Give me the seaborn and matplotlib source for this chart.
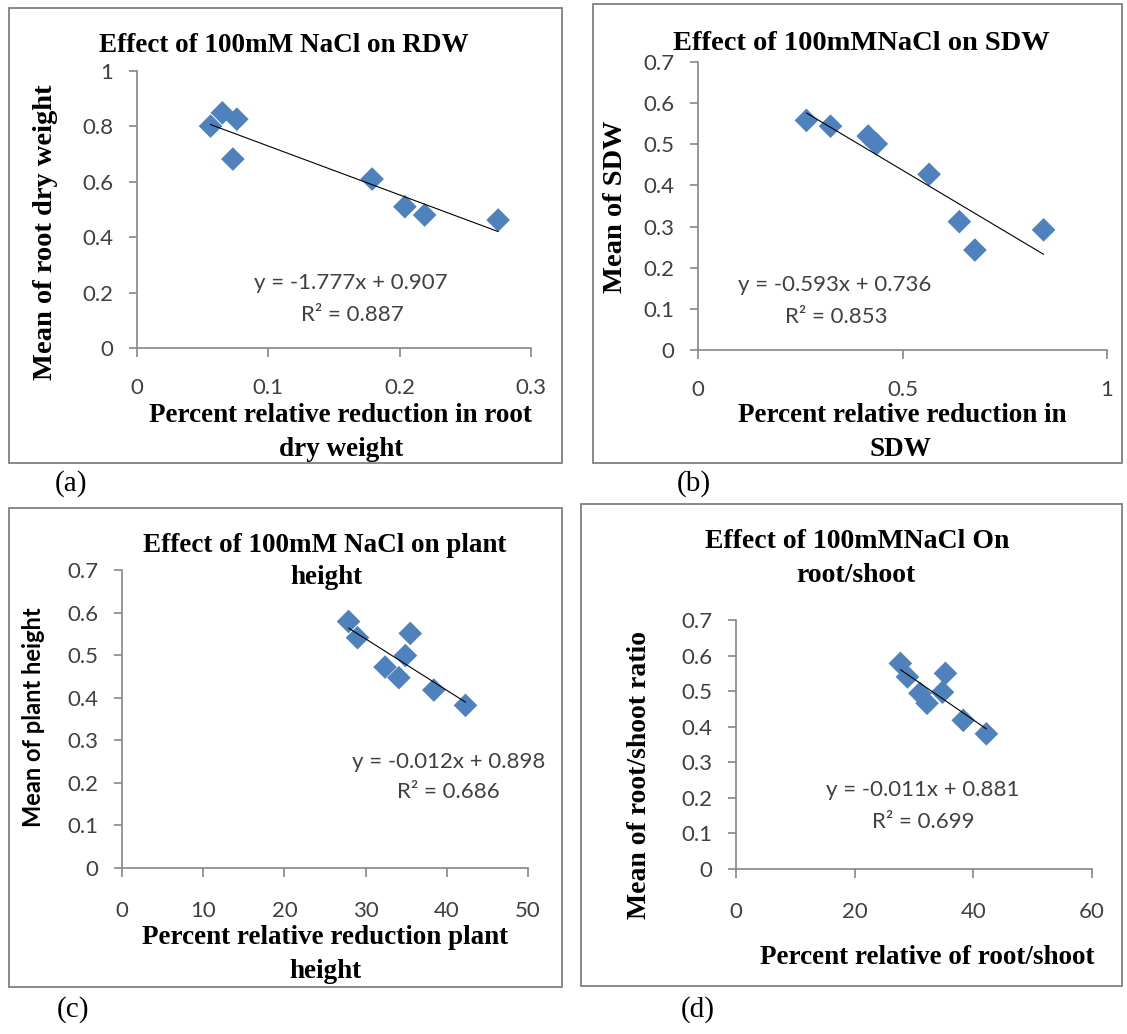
import matplotlib
matplotlib.use("Agg")
import matplotlib.pyplot as plt
from matplotlib.patches import Rectangle
import seaborn as sns
import pandas as pd

W, H = 1127, 1034

# ---------------- data ----------------
# (a) root dry weight
rdw_x = [0.056, 0.065, 0.076, 0.073, 0.179, 0.204, 0.219, 0.275]
rdw_y = [0.801, 0.849, 0.826, 0.682, 0.610, 0.510, 0.480, 0.462]
# (b) shoot dry weight
sdw_x = [0.265, 0.324, 0.416, 0.436, 0.565, 0.639, 0.677, 0.845]
sdw_y = [0.558, 0.544, 0.520, 0.501, 0.427, 0.312, 0.243, 0.292]
# (c) plant height
ph_x = [27.9, 29.0, 35.5, 34.9, 32.4, 34.1, 38.4, 42.3]
ph_y = [0.579, 0.541, 0.551, 0.499, 0.472, 0.447, 0.418, 0.382]
# (d) root/shoot
rs_x = [27.7, 28.9, 35.3, 34.8, 31.0, 32.2, 38.3, 42.2]
rs_y = [0.578, 0.540, 0.550, 0.497, 0.494, 0.466, 0.418, 0.380]

a_xticks = [0, 0.1, 0.2, 0.3]
a_yticks = [0, 0.2, 0.4, 0.6, 0.8, 1]
b_xticks = [0, 0.5, 1]
c_xticks = [0, 10, 20, 30, 40, 50]
d_xticks = [0, 20, 40, 60]
y07_ticks = [0, 0.1, 0.2, 0.3, 0.4, 0.5, 0.6, 0.7]

titles = ["Effect of 100mM NaCl on RDW", "Effect of 100mMNaCl on SDW",
          "Effect of 100mM NaCl on plant\nheight", "Effect of 100mMNaCl On\nroot/shoot"]
xlabels = ["Percent relative reduction in root\ndry weight", "Percent relative reduction in\nSDW",
           "Percent relative reduction plant\nheight", "Percent relative of root/shoot"]
ylabels = ["Mean of root dry weight", "Mean of SDW", "Mean of plant height", "Mean of root/shoot ratio"]
equations = [("y = -1.777x + 0.907", "R\u00b2 = 0.887"), ("y = -0.593x + 0.736", "R\u00b2 = 0.853"),
             ("y = -0.012x + 0.898", "R\u00b2 = 0.686"), ("y = -0.011x + 0.881", "R\u00b2 = 0.699")]
letters = ["(a)", "(b)", "(c)", "(d)"]

sns.set_style("white")
SERIF = ["Liberation Serif", "DejaVu Serif"]
SANS = ["Lato", "DejaVu Sans"]
BLUE = "#4F81BD"
GREY = "#404040"
AXC = "#868686"

fig = plt.figure(figsize=(W / 100, H / 100), dpi=100)


def ftext(x, y, s, **kw):
    kw.setdefault("ha", "center")
    kw.setdefault("va", "center")
    fig.text(x / W, 1 - y / H, s, **kw)


def fmt(v):
    return ("%g" % v)


layout = [
    dict(x=rdw_x, y=rdw_y, box=(9, 8, 562, 463), ax=(137, 531, 71, 348), xlim=(0, 0.3), xt=a_xticks,
         ylim=(0, 1), yt=a_yticks, xpad=15,
         title=[(284, 46)], tsize=19.5, xl=[(340, 416), (341, 449)], xls=19.5,
         yl=(46, 232), yls=20.5, yfont=SERIF, eq=[(351, 283), (352, 315)], let=(71, 484)),
    dict(x=sdw_x, y=sdw_y, box=(593, 4, 1122, 463), ax=(698, 1107, 62, 350), xlim=(0, 1), xt=b_xticks,
         ylim=(0, 0.7), yt=y07_ticks, xpad=15,
         title=[(861, 43)], tsize=20.5, xl=[(902, 416), (900, 449)], xls=19.5,
         yl=(615, 207), yls=20.5, yfont=SERIF, eq=[(835, 285), (836, 317)], let=(694, 484)),
    dict(x=ph_x, y=ph_y, box=(9, 508, 562, 987), ax=(122, 528, 570, 868), xlim=(0, 50), xt=c_xticks,
         ylim=(0, 0.7), yt=y07_ticks, xpad=17,
         title=[(325, 545), (326, 578)], tsize=19.5, xl=[(325, 938), (325, 971)], xls=19.5,
         yl=(34, 717), yls=17, yfont=SANS, eq=[(449, 762), (448, 792)], let=(73, 1010)),
    dict(x=rs_x, y=rs_y, box=(581, 504, 1122, 986), ax=(736, 1092, 620, 869), xlim=(0, 60), xt=d_xticks,
         ylim=(0, 0.7), yt=y07_ticks, xpad=17,
         title=[(857, 542), (856, 575)], tsize=20, xl=[(927, 957)], xls=19.5,
         yl=(640, 775), yls=20, yfont=SERIF, eq=[(923, 790), (923, 822)], let=(698, 1010)),
]

for i, p in enumerate(layout):
    # panel frame
    bx0, by0, bx1, by1 = p["box"]
    fig.patches.append(Rectangle((bx0 / W, 1 - by1 / H), (bx1 - bx0) / W, (by1 - by0) / H,
                                 transform=fig.transFigure, fill=False, edgecolor="#808080", lw=1.3))
    l, r, t, b = p["ax"]
    ax = fig.add_axes([l / W, 1 - b / H, (r - l) / W, (b - t) / H])
    df = pd.DataFrame({"x": p["x"], "y": p["y"]})
    sns.regplot(data=df, x="x", y="y", ax=ax, ci=None, marker="D", truncate=True,
                scatter_kws=dict(s=145, color=BLUE, edgecolors="none", alpha=1, zorder=2, clip_on=False),
                line_kws=dict(color="black", lw=0.8, zorder=3))
    ax.set_xlim(*p["xlim"])
    ax.set_ylim(*p["ylim"])
    ax.set_xticks(p["xt"])
    ax.set_xticklabels([fmt(v) for v in p["xt"]])
    ax.set_yticks(p["yt"])
    ax.set_yticklabels([fmt(v) for v in p["yt"]])
    ax.set_xlabel("")
    ax.set_ylabel("")
    ax.patch.set_alpha(0)
    for s in ["top", "right"]:
        ax.spines[s].set_visible(False)
    for s in ["left", "bottom"]:
        ax.spines[s].set_color(AXC)
        ax.spines[s].set_linewidth(1.2)
    ax.tick_params(axis="x", direction="out", length=6.5, width=1.2, color=AXC, pad=p["xpad"],
                   labelsize=16, labelcolor=GREY, bottom=True)
    ax.tick_params(axis="y", direction="out", length=6, width=1.2, color=AXC, pad=11,
                   labelsize=16, labelcolor=GREY, left=True)
    for lab in ax.get_xticklabels() + ax.get_yticklabels():
        lab.set_family(SANS)

    # titles
    parts = titles[i].split("\n")
    for (tx, ty), s in zip(p["title"], parts):
        ftext(tx, ty, s, family=SERIF, weight="bold", size=p["tsize"], color="black")
    # x labels
    parts = xlabels[i].split("\n")
    for (tx, ty), s in zip(p["xl"], parts):
        ftext(tx, ty, s, family=SERIF, weight="bold", size=p["xls"], color="black")
    # y label
    ftext(p["yl"][0], p["yl"][1], ylabels[i], family=p["yfont"], weight="bold", size=p["yls"],
          rotation=90, color="black")
    # equation
    for (tx, ty), s in zip(p["eq"], equations[i]):
        ftext(tx, ty, s, family=SANS, size=16, color=GREY)
    # letter
    ftext(p["let"][0], p["let"][1], letters[i], family=SERIF, size=21, color="black")

fig.savefig("out.png", dpi=100)
